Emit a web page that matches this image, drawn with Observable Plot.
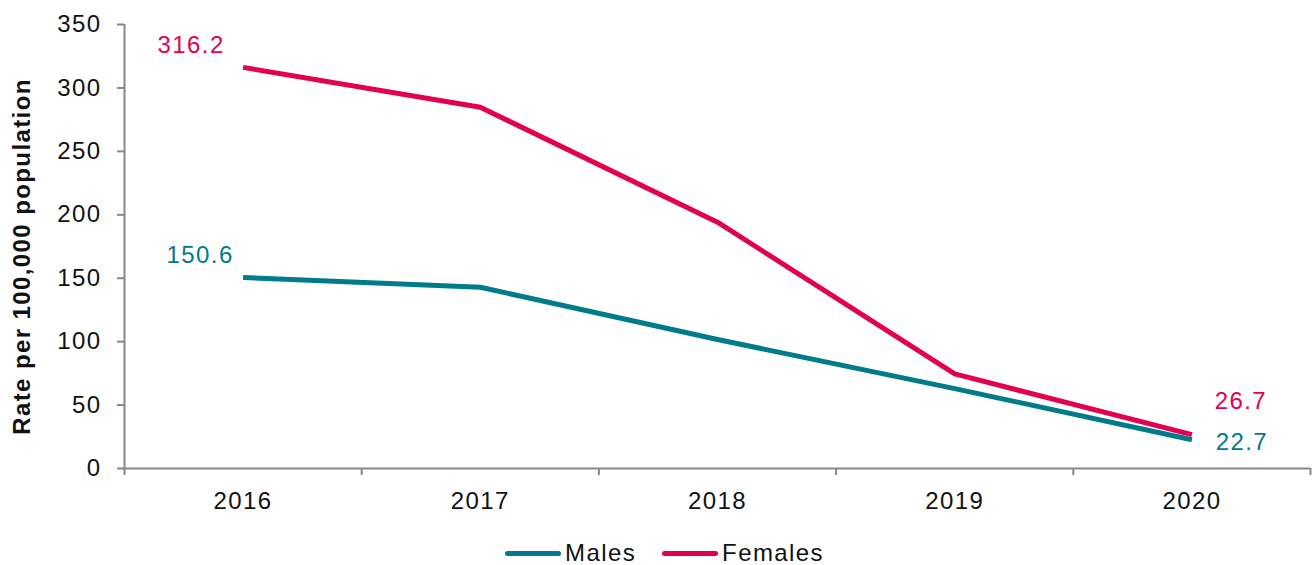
<!DOCTYPE html>
<html>
<head>
<meta charset="utf-8">
<script src="https://cdn.jsdelivr.net/npm/d3@7"></script>
<script src="https://cdn.jsdelivr.net/npm/@observablehq/plot@0.6"></script>
<style>
  html, body { margin: 0; padding: 0; background: #fff; }
  body { width: 1312px; height: 565px; overflow: hidden; font-family: "Liberation Sans", Arial, sans-serif; }
  svg text { letter-spacing: 1.4px; }
  #legend { display: flex; justify-content: center; align-items: center; gap: 26px; margin-left: 17px; margin-top: 14px; font-size: 24px; letter-spacing: 1.4px; color: #111; }
  .item { display: flex; align-items: center; }
  .swatch { width: 56px; height: 5px; border-radius: 3px; margin-right: 4px; }
</style>
</head>
<body>
<div id="chart"></div>
<div id="legend"></div>
<script>
const years = [2016, 2017, 2018, 2019, 2020];
const males = [150.6, 142.9, 101.7, 63.0, 22.7];
const females = [316.2, 284.8, 194.2, 74.6, 26.7];
const yTicks = [0, 50, 100, 150, 200, 250, 300, 350];
const bandEdges = [2015.5, 2016.5, 2017.5, 2018.5, 2019.5, 2020.5];
const seriesNames = ["Males", "Females"];
const colors = ["#007B89", "#E2004F"];
const yTitle = "Rate per 100,000 population";

const data = [];
years.forEach((yr, i) => {
  data.push({year: yr, value: males[i], series: "Males"});
  data.push({year: yr, value: females[i], series: "Females"});
});
const grey = "#878787";
const font = "Liberation Sans, Arial, sans-serif";

function lbl(series, idx) {
  return data.filter(d => d.series === series && d.year === years[idx]);
}

const chart = Plot.plot({
  width: 1312,
  height: 525,
  marginLeft: 124,
  marginRight: 2,
  marginTop: 24,
  marginBottom: 57,
  style: {fontFamily: font, fontSize: "24px", color: "#111", background: "#fff"},
  x: {type: "linear", domain: [2015.5, 2020.5], axis: null},
  y: {domain: [0, 350], axis: null},
  color: {domain: seriesNames, range: colors},
  marks: [
    Plot.axisY({ticks: yTicks, tickSize: 7, tickPadding: 16, stroke: grey, strokeWidth: 2, fill: "#111", fontSize: 24, tickFormat: d => d, label: null}),
    Plot.axisX({ticks: bandEdges, tickSize: 7, stroke: grey, strokeWidth: 2, tickFormat: () => "", label: null}),
    Plot.axisX({ticks: years, tickSize: 0, tickPadding: 23, fill: "#111", fontSize: 24, tickFormat: d => String(d), label: null}),
    Plot.ruleX([2015.5], {y1: 0, y2: 350, stroke: grey, strokeWidth: 2}),
    Plot.ruleY([0], {stroke: grey, strokeWidth: 2}),
    Plot.line(data, {x: "year", y: "value", z: "series", stroke: "series", strokeWidth: 5, strokeLinejoin: "round", strokeLinecap: "butt"}),
    Plot.text(lbl("Females", 0), {x: "year", y: "value", text: d => d.value.toFixed(1), fill: colors[1], fontSize: 24, dx: -52, dy: -22}),
    Plot.text(lbl("Males", 0), {x: "year", y: "value", text: d => d.value.toFixed(1), fill: colors[0], fontSize: 24, dx: -43, dy: -22}),
    Plot.text(lbl("Females", 4), {x: "year", y: "value", text: d => d.value.toFixed(1), fill: colors[1], fontSize: 24, dx: 49, dy: -33}),
    Plot.text(lbl("Males", 4), {x: "year", y: "value", text: d => d.value.toFixed(1), fill: colors[0], fontSize: 24, dx: 50, dy: 3}),
    Plot.text([yTitle], {frameAnchor: "left", textAnchor: "middle", dx: -102, dy: 10, rotate: -90, fontWeight: "bold", fontSize: 24, fill: "#111"})
  ]
});
document.getElementById("chart").appendChild(chart);

const legend = document.getElementById("legend");
seriesNames.forEach((name, i) => {
  const item = document.createElement("div");
  item.className = "item";
  const sw = document.createElement("span");
  sw.className = "swatch";
  sw.style.background = colors[i];
  const t = document.createElement("span");
  t.textContent = name;
  item.appendChild(sw);
  item.appendChild(t);
  legend.appendChild(item);
});
</script>
</body>
</html>
